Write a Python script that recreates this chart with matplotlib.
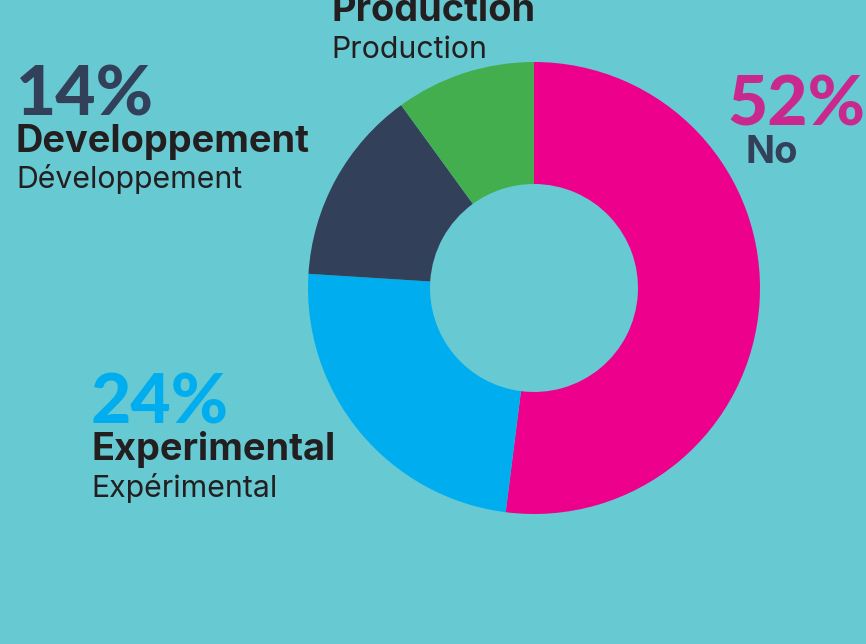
"""Donut chart: project stage breakdown."""

import matplotlib
matplotlib.use("Agg")
import matplotlib.pyplot as plt

BG = "#67C9D1"
TXT = "#231F20"

# data
categories = ["No", "Experimental", "Developpement", "Production"]
labels_fr = ["", "Expérimental", "Développement", "Production"]
values = [52, 24, 14, 10]
colors = ["#EC008C", "#00AEEF", "#334059", "#43AE4E"]
pct_colors = ["#C9298F", "#00AEEF", "#334059", "#43AE4E"]

W, H = 866, 644
fig = plt.figure(figsize=(W / 100, H / 100), dpi=100, facecolor=BG)

# donut: centre (534, 288) px, outer r 226, inner r 104
cx, cy, r = 534, 288, 226
ax = fig.add_axes([(cx - r) / W, (H - cy - r) / H, 2 * r / W, 2 * r / H])
ax.set_facecolor(BG)
ax.pie(values, colors=colors, startangle=90, counterclock=False, radius=1,
       wedgeprops=dict(width=1 - 104 / 226, linewidth=0))
ax.set_xlim(-1, 1)
ax.set_ylim(-1, 1)
ax.set_aspect("auto")
ax.axis("off")

PCT_FONT = "Lato"
FONT = "Inter"
PCT_SIZE = 50
NAME_SIZE = 27.3
FR_SIZE = 21.8


def px(x, y):
    return x / W, 1 - y / H


def label_block(i, x, y_pct, y_name, y_fr):
    fig.text(*px(x, y_pct), f"{values[i]}%", color=pct_colors[i], fontsize=PCT_SIZE,
             fontweight="black", family=PCT_FONT, va="baseline", ha="left")
    fig.text(*px(x, y_name), categories[i], color=TXT, fontsize=NAME_SIZE,
             fontweight="bold", family=FONT, va="baseline", ha="left")
    fig.text(*px(x, y_fr), labels_fr[i], color=TXT, fontsize=FR_SIZE,
             family=FONT, va="baseline", ha="left")


label_block(2, 16, 115, 152, 188)
label_block(1, 91, 423, 460, 497)
# production: its percentage sits above the visible area
fig.text(*px(331, 21), categories[3], color=TXT, fontsize=NAME_SIZE,
         fontweight="bold", family=FONT, va="baseline", ha="left")
fig.text(*px(331, 58), labels_fr[3], color=TXT, fontsize=FR_SIZE,
         family=FONT, va="baseline", ha="left")
# "No" block on the right
fig.text(*px(727, 125), f"{values[0]}%", color=pct_colors[0], fontsize=PCT_SIZE,
         fontweight="black", family=PCT_FONT, va="baseline", ha="left")
fig.text(*px(745, 163), categories[0], color="#334059", fontsize=27.5,
         fontweight="bold", family=FONT, va="baseline", ha="left")

fig.savefig("out.png", dpi=100, facecolor=BG)
plt.close(fig)
